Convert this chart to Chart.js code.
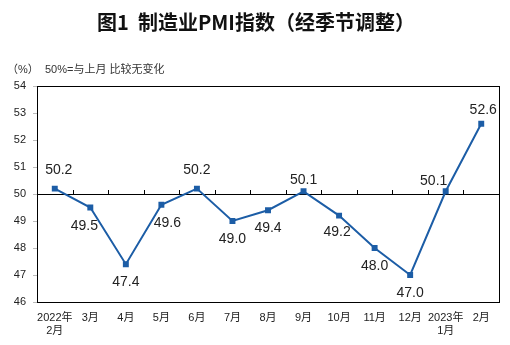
<!DOCTYPE html>
<html>
<head>
<meta charset="utf-8">
<script src="https://cdn.jsdelivr.net/npm/chart.js@4.4.0/dist/chart.umd.min.js"></script>
<style>
  html, body { margin: 0; padding: 0; background: #fff; }
  #wrap { width: 510px; height: 345px; position: relative; }
</style>
</head>
<body>
<div id="wrap"><canvas id="pmi-chart"></canvas></div>
<script>
(function () {
  const $ = (id) => document.getElementById(id);

  // data
  const months = [["2022年", "2月"], "3月", "4月", "5月", "6月", "7月", "8月", "9月", "10月", "11月", "12月", ["2023年", "1月"], "2月"];
  const pmi = [50.2, 49.5, 47.4, 49.6, 50.2, 49.0, 49.4, 50.1, 49.2, 48.0, 47.0, 50.1, 52.6];
  const yMin = 46, yMax = 54, yStep = 1;
  const baseline = 50;

  // label nudges (dx, dy) per point, px
  const labelOffsets = [[4, -18], [-6, 19], [0, 18], [6, 18], [0, -18], [0, 18], [0, 18], [0, -11], [-2, 17], [0, 18], [0, 18], [-12, -10], [2, -14]];

  const blue = "#1c5da6";
  const txt = "#222";
  const sans = "'Liberation Sans', Arial, 'Noto Sans CJK SC', sans-serif";

  const marks = {
    id: "marks",
    beforeDatasetsDraw(chart) {
      const { ctx, chartArea: a, scales: { x, y } } = chart;
      const y50 = y.getPixelForValue(baseline);
      ctx.save();
      ctx.strokeStyle = "#000";
      ctx.lineWidth = 1;
      ctx.beginPath();
      ctx.moveTo(a.left, Math.round(y50) + 0.5);
      ctx.lineTo(a.right, Math.round(y50) + 0.5);
      for (let i = 1; i < months.length; i++) {
        const bx = Math.round((x.getPixelForValue(i - 1) + x.getPixelForValue(i)) / 2) + 0.5;
        ctx.moveTo(bx, Math.round(y50));
        ctx.lineTo(bx, Math.round(y50) - 4);
      }
      ctx.stroke();
      ctx.strokeRect(Math.round(a.left) + 0.5, Math.round(a.top) + 0.5, Math.round(a.width), Math.round(a.height));
      ctx.restore();
    },
    afterDatasetsDraw(chart) {
      const { ctx } = chart;
      const pts = chart.getDatasetMeta(0).data;
      ctx.save();
      ctx.font = "14px " + sans;
      ctx.fillStyle = txt;
      ctx.textAlign = "center";
      ctx.textBaseline = "middle";
      pts.forEach((p, i) => {
        const [dx, dy] = labelOffsets[i];
        ctx.fillText(pmi[i].toFixed(1), p.x + dx, p.y + dy);
      });
      ctx.restore();
    },
    afterDraw(chart) {
      const { ctx, chartArea: a, width } = chart;
      ctx.save();
      ctx.fillStyle = "#111";
      ctx.textAlign = "center";
      ctx.textBaseline = "middle";
      ctx.font = "bold 20px 'Noto Sans CJK SC', sans-serif";
      ctx.fillText("图1  制造业PMI指数（经季节调整）", width / 2 + 1, 22);
      ctx.font = "11px " + sans;
      ctx.fillStyle = "#333";
      ctx.textAlign = "left";
      ctx.fillText("（%）", a.left - 30, a.top - 16);
      ctx.fillText("50%=与上月 比较无变化", a.left + 8, a.top - 16);
      ctx.restore();
    }
  };

  new Chart($("pmi-chart"), {
    type: "line",
    data: {
      labels: months,
      datasets: [{
        data: pmi,
        borderColor: blue,
        backgroundColor: blue,
        borderWidth: 2,
        pointStyle: "rect",
        pointRadius: 4.2,
        pointBorderWidth: 0,
        tension: 0,
      }],
    },
    options: {
      responsive: true,
      maintainAspectRatio: false,
      animation: false,
      layout: { padding: { left: 0, right: 11, top: 86, bottom: 7 } },
      plugins: {
        legend: { display: false },
        tooltip: { enabled: false },
      },
      scales: {
        x: {
          offset: true,
          grid: { display: false, drawTicks: false },
          border: { color: "#000" },
          ticks: { color: txt, font: { family: sans, size: 11 }, padding: 9, maxRotation: 0, autoSkip: false },
          afterFit: (s) => { s.height = 36; },
        },
        y: {
          min: yMin,
          max: yMax,
          grid: { drawOnChartArea: false, drawTicks: true, tickLength: 4, color: "#bbb" },
          border: { color: "#000" },
          ticks: { stepSize: yStep, color: txt, font: { family: sans, size: 11 }, padding: 7 },
          afterFit: (s) => { s.width = 37; },
        },
      },
    },
    plugins: [marks],
  });
})();
</script>
</body>
</html>
